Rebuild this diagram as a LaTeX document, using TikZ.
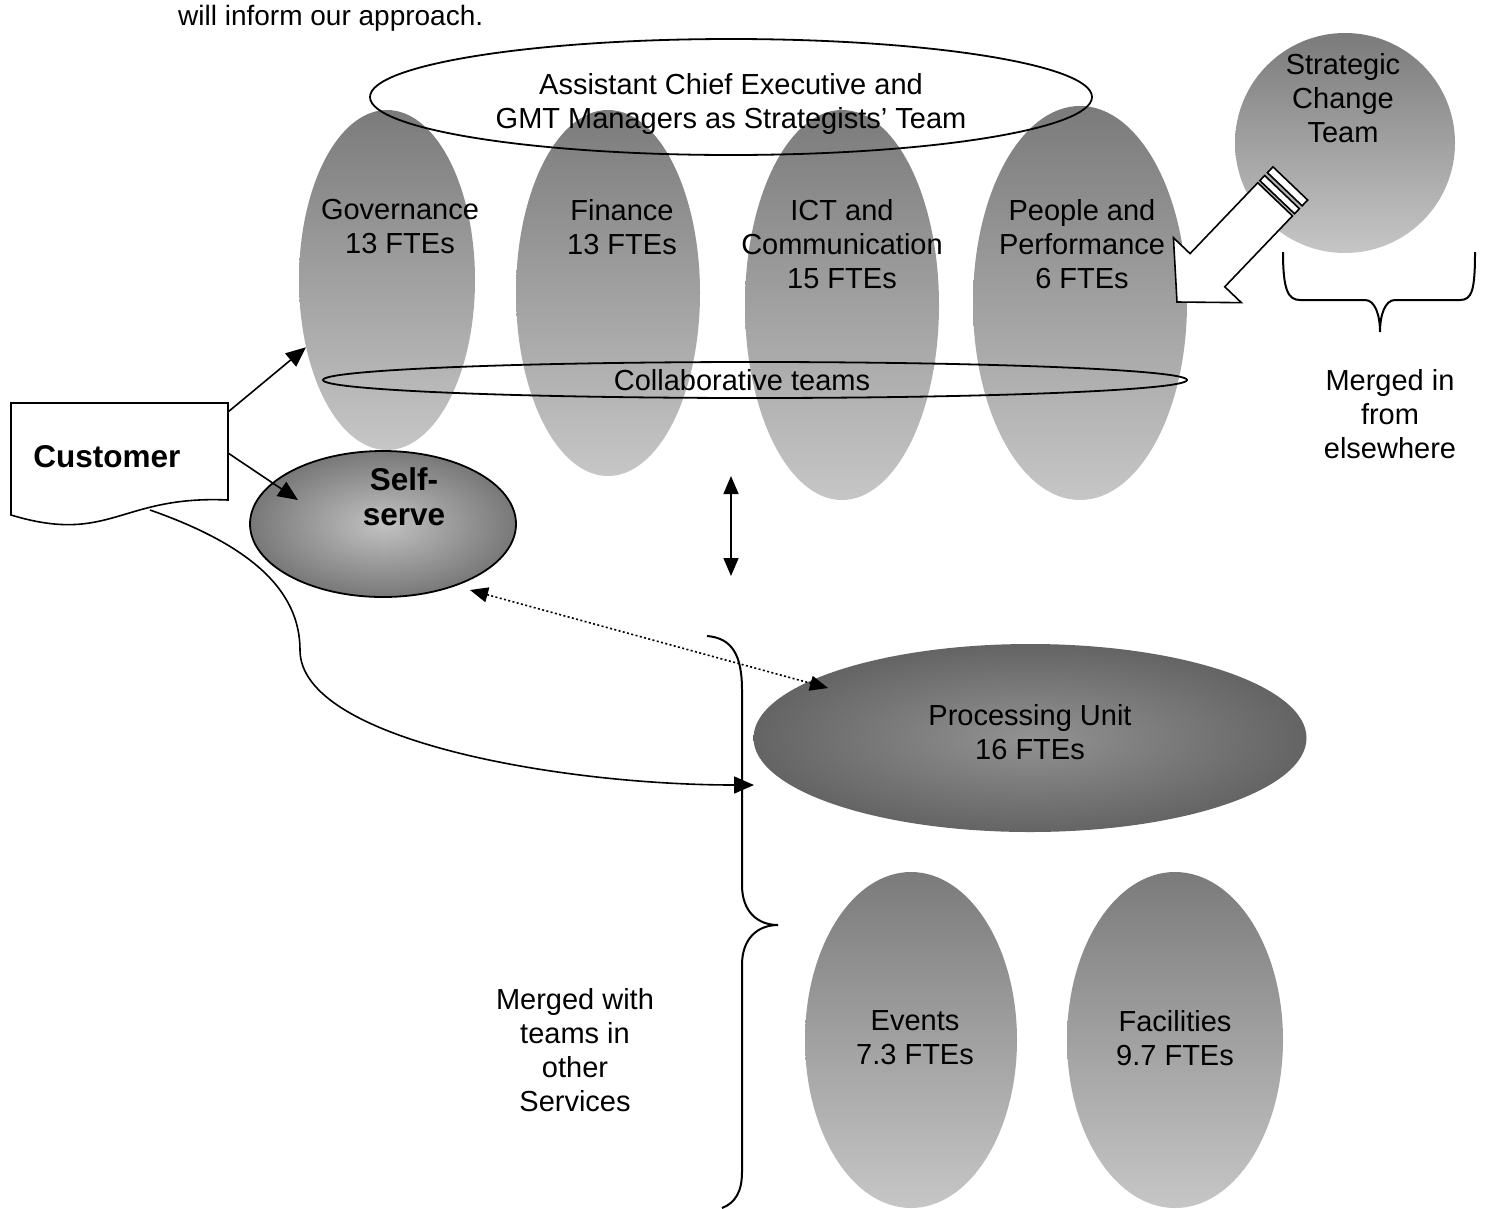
\documentclass[tikz,border=0pt]{standalone}
\usepackage{fontspec}
\setmainfont{Liberation Sans}
\usetikzlibrary{shapes.geometric,arrows.meta,calc}
\definecolor{gtop}{HTML}{7B7B7B}
\definecolor{gbot}{HTML}{C6C6C6}
\definecolor{ssin}{HTML}{C2C2C2}
\definecolor{ssout}{HTML}{787878}
\definecolor{puin}{HTML}{929292}
\definecolor{puout}{HTML}{646464}
\begin{document}
\begin{tikzpicture}[x=1pt,y=-1pt,
  txt/.style={inner sep=0pt, align=center, font=\fontsize{29}{34}\selectfont},
  btxt/.style={inner sep=0pt, align=center, font=\fontsize{31.5}{35}\selectfont\bfseries},
  unit/.style={ellipse, inner sep=0pt, draw=none, top color=gtop, bottom color=gbot},
  ring/.style={ellipse, inner sep=0pt, draw=black, line width=1.8pt},
  conn/.style={line width=1.6pt, -{Triangle[length=20pt,width=17pt]}},
  twoway/.style={line width=1.6pt, {Triangle[length=18pt,width=15pt]}-{Triangle[length=18pt,width=15pt]}},
  bracepath/.style={line width=2pt},
]
\useasboundingbox (0,0) rectangle (1485,1208);

% intro text
\node[inner sep=0pt, anchor=base west, font=\fontsize{28}{34}\selectfont] (intro) at (178,25) {will inform our approach.};

% unit ellipses
\node[unit, minimum width=176pt, minimum height=340pt] (gov) at (387,280) {};
\node[unit, minimum width=184pt, minimum height=366pt] (fin) at (608,293) {};
\node[unit, minimum width=194pt, minimum height=390pt] (ict) at (842,305) {};
\node[unit, minimum width=214pt, minimum height=394pt] (ppl) at (1080,303) {};

% outline ellipses
\node[ring, minimum width=722pt, minimum height=116pt] (gmt) at (731,97) {};
\node[ring, minimum width=864pt, minimum height=36pt] (collab) at (755,380) {};

\node[txt] (gmttxt) at (731,104) {Assistant Chief Executive and\\GMT Managers as Strategists’ Team};
\node[txt] (govtxt) at (400,227) {Governance\\13 FTEs};
\node[txt] (fintxt) at (622,227) {Finance\\13 FTEs};
\node[txt] (icttxt) at (842,244) {ICT and\\Communication\\15 FTEs};
\node[txt] (ppltxt) at (1082,244) {People and\\Performance\\6 FTEs};
\node[txt] (coltxt) at (742,380) {Collaborative teams};

% strategic change team
\node[circle, inner sep=0pt, minimum size=220pt, top color=gtop, bottom color=gbot] (sct) at (1345,143) {};
\node[txt] (scttxt) at (1343,98) {Strategic\\Change\\Team};

% striped arrow
\begin{scope}[shift={(1177,302)}, rotate=46.3, line width=1.6pt]
  \draw[fill=white] (0,0) -- (44,-47) -- (44,-24) -- (142,-24) -- (142,24) -- (44,24) -- (44,47) -- cycle;
  \draw[fill=white] (145,-24) rectangle (152,24);
  \draw[fill=white] (156,-24) rectangle (164,24);
\end{scope}

% brace under strategic team
\draw[bracepath] (1283,252) .. controls (1283,290) and (1288,300) .. (1300,300) -- (1365,300)
  .. controls (1375,300) and (1380,315) .. (1380,332)
  .. controls (1380,315) and (1385,300) .. (1395,300) -- (1460,300)
  .. controls (1472,300) and (1475,290) .. (1475,252);
\node[txt] (mergedin) at (1390,414) {Merged in\\from\\elsewhere};

% customer
\draw[line width=1.6pt, fill=white] (11,403) -- (228,403) -- (228,500) .. controls (120,495) and (110,545) .. (11,515) -- cycle;
\node[btxt] (cust) at (107,457) {Customer};
\coordinate (c1) at (228,412);
\coordinate (c2) at (228,453);
\coordinate (c3) at (150,510);

% self-serve
\node[ellipse, inner sep=0pt, draw=black, line width=1.8pt, inner color=ssin, outer color=ssout,
      minimum width=266pt, minimum height=146pt] (ss) at (383,524) {};
\node[btxt] (sstxt) at (404,497) {Self-\\serve};

% processing unit
\node[ellipse, inner sep=0pt, draw=none, inner color=puin, outer color=puout,
      minimum width=553pt, minimum height=188pt] (pu) at (1030,738) {};
\node[txt] (putxt) at (1030,732) {Processing Unit\\16 FTEs};

% events, facilities
\node[unit, minimum width=212pt, minimum height=336pt] (ev) at (911,1040) {};
\node[unit, minimum width=216pt, minimum height=336pt] (fac) at (1175,1040) {};
\node[txt] (evtxt) at (915,1038) {Events\\7.3 FTEs};
\node[txt] (factxt) at (1175,1038) {Facilities\\9.7 FTEs};

% big brace
\draw[bracepath] (707,636) .. controls (732,638) and (742,655) .. (742,690) -- (742,885)
  .. controls (742,912) and (758,925) .. (778,925)
  .. controls (758,925) and (742,938) .. (742,965) -- (742,1172)
  .. controls (742,1192) and (735,1203) .. (722,1208);
\coordinate (b1) at (754,785);
\node[txt] (mergedwith) at (575,1050) {Merged with\\teams in\\other\\Services};

% connectors
\draw[conn] (c1) -- (gov);
\draw[conn] (c2) -- ([shift={(-85,-24)}]ss.center);
\draw[conn] (c3) .. controls (250,545) and (300,590) .. (300,650)
  .. controls (300,740) and (560,785) .. (b1);
\coordinate (v1) at (731,476);
\coordinate (v2) at (731,576);
\draw[twoway] (v1) -- (v2);
\draw[twoway, dash pattern=on 2pt off 2.4pt] ([shift={(87,66)}]ss.center) -- ([shift={(-202,-50)}]pu.center);
\end{tikzpicture}
\end{document}
